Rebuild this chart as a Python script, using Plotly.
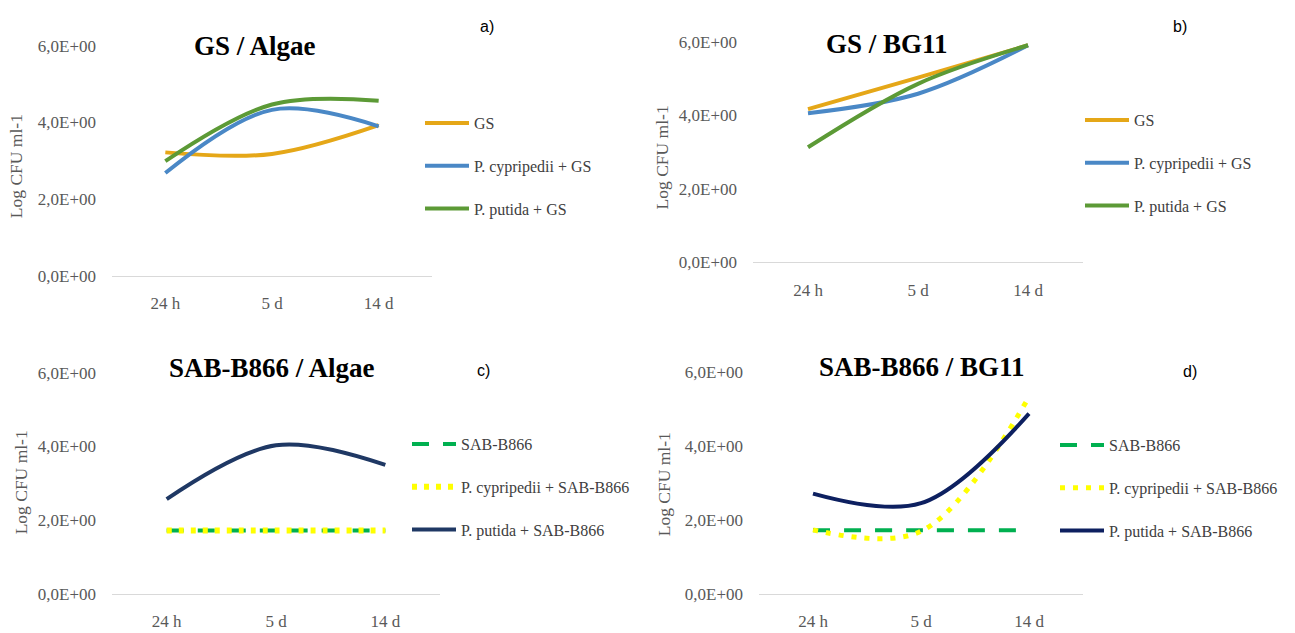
import plotly.graph_objects as go

W, H = 1295, 633

time_labels = ["24 h", "5 d", "14 d"]
ytick_vals = [0, 2, 4, 6]
ytick_text = ["0,0E+00", "2,0E+00", "4,0E+00", "6,0E+00"]

# Panel a: GS / Algae
a_gs = [3.22, 3.18, 3.93]
a_cyp = [2.68, 4.33, 3.90]
a_put = [2.99, 4.47, 4.57]
# Panel b: GS / BG11
b_gs = [4.17, 5.03, 5.91]
b_cyp = [4.06, 4.59, 5.91]
b_put = [3.13, 4.86, 5.91]
# Panel c: SAB-B866 / Algae
c_sab = [1.72, 1.72, 1.72]
c_cyp = [1.72, 1.72, 1.72]
c_put = [2.57, 4.03, 3.50]
# Panel d: SAB-B866 / BG11
d_sab = [1.72, 1.72, 1.72]
d_cyp = [1.73, 1.69, 5.32]
d_put = [2.71, 2.45, 4.87]

ORANGE = "#E5A718"
BLUE = "#4A88C6"
GREEN = "#5C9A36"
DGREEN = "#00B050"
YELLOW = "#FFFF00"
NAVY_C = "#1F3864"
NAVY_D = "#0D2060"

SERIF = "Liberation Serif"
GRAY = "#595959"

def px_x(x):
    return x / W

def px_y(y):
    return 1 - y / H

# plot areas in pixels: (x0, x1, ytop(6.0), ybottom(0.0))
areas = {
    1: (112, 432, 38, 275),
    2: (753, 1083, 34, 261),
    3: (112, 440, 375, 603),
    4: (759, 1083, 374, 603),
}

fig = go.Figure()

def add(panel, name, y, color, dash="solid", width=4, legend="legend"):
    sfx = "" if panel == 1 else str(panel)
    fig.add_trace(go.Scatter(
        x=time_labels, y=y, name=name, mode="lines",
        line=dict(color=color, width=width, dash=dash, shape="spline", smoothing=1),
        xaxis="x" + sfx, yaxis="y" + sfx, legend=legend,
        legendgroup=f"{panel}-{name}",
    ))

add(1, "GS", a_gs, ORANGE, legend="legend")
add(1, "P. cypripedii + GS", a_cyp, BLUE, legend="legend")
add(1, "P. putida + GS", a_put, GREEN, legend="legend")
add(2, "GS", b_gs, ORANGE, legend="legend2")
add(2, "P. cypripedii + GS", b_cyp, BLUE, legend="legend2")
add(2, "P. putida + GS", b_put, GREEN, legend="legend2")
add(3, "SAB-B866", c_sab, DGREEN, dash="17px,14px", legend="legend3")
add(3, "P. cypripedii + SAB-B866", c_cyp, YELLOW, dash="5px,7px", width=6, legend="legend3")
add(3, "P. putida + SAB-B866", c_put, NAVY_C, legend="legend3")
add(4, "SAB-B866", d_sab, DGREEN, dash="17px,14px", legend="legend4")
add(4, "P. cypripedii + SAB-B866", d_cyp, YELLOW, dash="5px,8px", width=5, legend="legend4")
add(4, "P. putida + SAB-B866", d_put, NAVY_D, legend="legend4")

layout = dict(
    width=W, height=H, margin=dict(l=0, r=0, t=0, b=0),
    paper_bgcolor="white", plot_bgcolor="white",
    font=dict(family=SERIF, color=GRAY, size=15),
)

for p, (x0, x1, yt, yb) in areas.items():
    sfx = "" if p == 1 else str(p)
    layout["xaxis" + sfx] = dict(
        domain=[px_x(x0), px_x(x1)], anchor="y" + sfx,
        type="category", range=[-0.5, 2.5],
        showline=True, linecolor="#D9D9D9", linewidth=1.3,
        showgrid=False, zeroline=False, ticks="",
        tickfont=dict(family=SERIF, size=17, color=GRAY),
        ticklabelstandoff=12,
    )
    layout["yaxis" + sfx] = dict(
        domain=[px_y(yb), px_y(yt)], anchor="x" + sfx,
        range=[0, 6], tickvals=ytick_vals, ticktext=ytick_text,
        showline=False, showgrid=False, zeroline=False, ticks="",
        tickfont=dict(family=SERIF, size=17, color=GRAY),
        ticklabelstandoff=15,
    )

legend_pos = {
    "legend": (420, 100),
    "legend2": (1080, 97),
    "legend3": (407, 431),
    "legend4": (1055, 432),
}
for key, (lx, ly) in legend_pos.items():
    layout[key] = dict(
        x=px_x(lx), y=px_y(ly), xanchor="left", yanchor="top",
        bgcolor="rgba(0,0,0,0)", borderwidth=0,
        font=dict(family=SERIF, size=16, color="#404040"),
        tracegroupgap=19, itemwidth=44,
    )

fig.update_layout(**layout)

# Panel titles
titles = [
    ("GS / Algae", 255, 38),
    ("GS / BG11", 887, 36),
    ("SAB-B866 / Algae", 272, 370),
    ("SAB-B866 / BG11", 922, 369),
]
for text, tx, ty in titles:
    fig.add_annotation(text=f"<b>{text}</b>", x=px_x(tx), y=px_y(ty),
                       xref="paper", yref="paper", showarrow=False,
                       xanchor="center", yanchor="middle",
                       font=dict(family=SERIF, size=27, color="black"))

# Panel letters
letters = [("a)", 487, 18), ("b)", 1180, 18), ("c)", 483, 373), ("d)", 1190, 374)]
for text, tx, ty in letters:
    fig.add_annotation(text=text, x=px_x(tx), y=px_y(ty), xref="paper", yref="paper",
                       showarrow=False, xanchor="center", yanchor="middle",
                       font=dict(family="Liberation Sans", size=16, color="black"))

# Y axis titles
ytitles = [(16, 162), (662, 153), (21, 488), (664, 490)]
for tx, ty in ytitles:
    fig.add_annotation(text="Log CFU ml-1", x=px_x(tx), y=px_y(ty), xref="paper", yref="paper",
                       showarrow=False, textangle=-90, xanchor="center", yanchor="middle",
                       font=dict(family=SERIF, size=17.5, color=GRAY))

fig.write_html("out.html")
